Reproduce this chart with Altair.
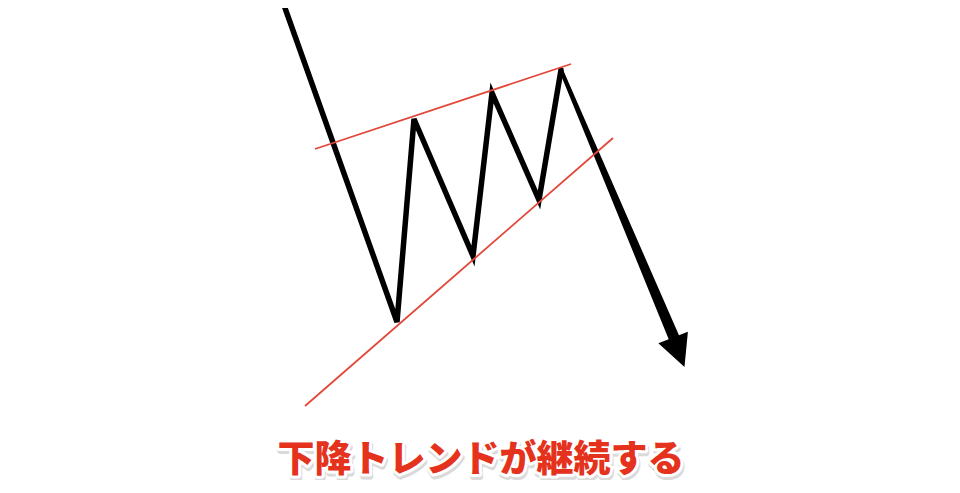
import altair as alt
import pandas as pd

# Zigzag price path (x position, price level)
zig_x = [285, 397, 414, 473, 492, 539, 561]
zig_p = [485, 171, 374, 237, 400, 293, 423]

# Breakdown arrow shaft (x, price, line width)
arr_x = [561, 675]
arr_p = [423, 153]
arr_w = [4, 11]

# Arrow head
head_x = [678.8]
head_p = [140.7]

# Red trend lines (two endpoints each)
tl_name = ["upper", "upper", "lower", "lower"]
tl_x = [315, 571, 305, 613]
tl_p = [344, 429, 87, 355]

# Caption
cap_text = ["下降トレンドが継続する"]
cap_x = [481]
cap_p = [32]

W, H = 940, 472
xs = alt.Scale(domain=[8, 8 + W], nice=False, zero=False)
ys = alt.Scale(domain=[485 - H, 485], nice=False, zero=False)

zig = pd.DataFrame({"i": range(len(zig_x)), "x": zig_x, "p": zig_p})
arr = pd.DataFrame({"i": range(len(arr_x)), "x": arr_x, "p": arr_p, "w": arr_w})
head = pd.DataFrame({"x": head_x, "p": head_p})
tl = pd.DataFrame({"name": tl_name, "x": tl_x, "p": tl_p})
cap = pd.DataFrame({"t": cap_text, "x": cap_x, "p": cap_p})

X = alt.X("x:Q", scale=xs, axis=None)
Y = alt.Y("p:Q", scale=ys, axis=None)

zig_line = alt.Chart(zig).mark_line(
    color="black", strokeWidth=5.5, strokeJoin="miter", strokeCap="round"
).encode(x=X, y=Y, order="i:Q")

shaft = alt.Chart(arr).mark_trail(color="black").encode(
    x=X, y=Y, order="i:Q", size=alt.Size("w:Q", scale=None, legend=None)
)

arrow_head = alt.Chart(head).mark_point(
    shape="M-1,-1L1,-1L0,1Z", filled=True, color="black", opacity=1,
    size=1000, angle=339
).encode(x=X, y=Y)

trend = alt.Chart(tl).mark_line(color="#e2483a", strokeWidth=1.8).encode(
    x=X, y=Y, detail="name:N"
)

font = "Noto Sans CJK JP"
shadow = alt.Chart(cap).mark_text(
    font=font, fontSize=37, fontWeight=900, color="#bdbdbd",
    stroke="#bdbdbd", strokeWidth=6, strokeJoin="round", opacity=0.55,
    dx=1, dy=3, baseline="middle", align="center"
).encode(x=X, y=Y, text="t:N")
outline = alt.Chart(cap).mark_text(
    font=font, fontSize=37, fontWeight=900, color="white",
    stroke="white", strokeWidth=6, strokeJoin="round",
    baseline="middle", align="center"
).encode(x=X, y=Y, text="t:N")
label = alt.Chart(cap).mark_text(
    font=font, fontSize=37, fontWeight=900, color="#e5321c",
    baseline="middle", align="center"
).encode(x=X, y=Y, text="t:N")

chart = alt.layer(
    zig_line, shaft, arrow_head, trend, shadow, outline, label
).properties(
    width=W, height=H, padding=0,
    autosize=alt.AutoSizeParams(type="none"),
    background="white",
).configure_view(stroke=None)

chart.save("out.html", embed_options={"renderer": "svg", "actions": False})
